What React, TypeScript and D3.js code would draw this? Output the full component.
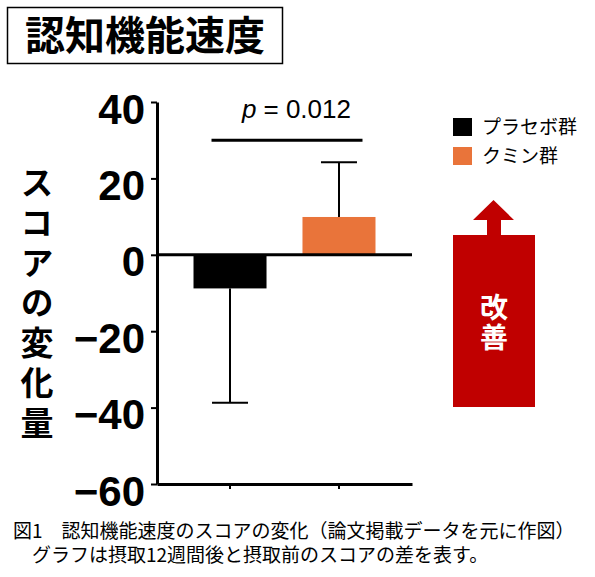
import { useEffect, useRef } from "react";
import * as d3 from "d3";

const groups = ["プラセボ群", "クミン群"];
const means = [-8.8, 9.9];
const errors = [29.9, 14.3];
const colors = ["#000000", "#E9743A"];
const yTicks = [-60, -40, -20, 0, 20, 40];
const yLabel = "スコアの変化量";
const arrowLabel = "改善";
const title = "認知機能速度";
const pText = "= 0.012";
const captionLines = [
  "図1　認知機能速度のスコアの変化（論文掲載データを元に作図）",
  "グラフは摂取12週間後と摂取前のスコアの差を表す。",
];

const App = () => {
  const chartRef = useRef<SVGSVGElement>(null);

  useEffect(() => {
    const width = 595;
    const height = 577;
    const left = 157;
    const right = 412;
    const top = 102;
    const bottom = 484;
    const jp = "'Noto Sans CJK JP', sans-serif";
    const narrow = "'Liberation Sans Narrow', 'Liberation Sans', Arial, sans-serif";

    const svg = d3
      .select(chartRef.current)
      .attr("width", width)
      .attr("height", height);

    const xScale = d3
      .scaleBand()
      .domain(groups)
      .range([left, right])
      .paddingInner(0.33)
      .paddingOuter(0.335);

    const yScale = d3.scaleLinear().domain([-60, 40]).range([bottom, top]);

    // title box
    svg
      .append("rect")
      .attr("x", 7.5)
      .attr("y", 7.5)
      .attr("width", 275)
      .attr("height", 56)
      .attr("fill", "none")
      .attr("stroke", "#000")
      .attr("stroke-width", 1.5);
    svg
      .append("text")
      .attr("x", 145)
      .attr("y", 50)
      .attr("text-anchor", "middle")
      .attr("font-family", jp)
      .attr("font-weight", 700)
      .attr("font-size", 40)
      .text(title);

    // bars
    svg
      .selectAll(".bar")
      .data(groups)
      .join("rect")
      .attr("class", "bar")
      .attr("x", (d) => xScale(d)!)
      .attr("width", xScale.bandwidth())
      .attr("y", (_, i) => yScale(Math.max(0, means[i])))
      .attr("height", (_, i) => Math.abs(yScale(means[i]) - yScale(0)))
      .attr("fill", (_, i) => colors[i]);

    // error bars (one side only)
    groups.forEach((g, i) => {
      const cx = xScale(g)! + xScale.bandwidth() / 2;
      const end = means[i] + Math.sign(means[i]) * errors[i];
      svg
        .append("line")
        .attr("x1", cx)
        .attr("x2", cx)
        .attr("y1", yScale(means[i]))
        .attr("y2", yScale(end))
        .attr("stroke", "#000")
        .attr("stroke-width", 2);
      svg
        .append("line")
        .attr("x1", cx - 18)
        .attr("x2", cx + 18)
        .attr("y1", yScale(end))
        .attr("y2", yScale(end))
        .attr("stroke", "#000")
        .attr("stroke-width", 2);
    });

    // zero line
    svg
      .append("line")
      .attr("x1", left)
      .attr("x2", right)
      .attr("y1", yScale(0))
      .attr("y2", yScale(0))
      .attr("stroke", "#000")
      .attr("stroke-width", 3);

    // y axis
    svg
      .append("g")
      .attr("transform", `translate(${left},0)`)
      .call(
        d3
          .axisLeft(yScale)
          .tickValues(yTicks)
          .tickSize(6)
          .tickSizeOuter(0)
          .tickPadding(6),
      )
      .call((g) => {
        g.select(".domain").attr("stroke-width", 3);
        g.selectAll(".tick line").attr("stroke-width", 2);
        g.selectAll(".tick text")
          .attr("font-family", narrow)
          .attr("font-weight", 700)
          .attr("font-size", 42)
          .attr("dy", "0.5em")
          .attr("fill", "#000");
      });

    // x axis (bottom)
    svg
      .append("g")
      .attr("transform", `translate(0,${bottom})`)
      .call(
        d3
          .axisBottom(xScale)
          .tickSize(5)
          .tickSizeOuter(0)
          .tickFormat(() => ""),
      )
      .call((g) => {
        g.select(".domain").attr("stroke-width", 3);
        g.selectAll(".tick line").attr("stroke-width", 2);
      });

    // significance bar
    const sigY = yScale(30);
    svg
      .append("line")
      .attr("x1", xScale(groups[0])! + 18)
      .attr("x2", xScale(groups[1])! + xScale.bandwidth() - 13)
      .attr("y1", sigY)
      .attr("y2", sigY)
      .attr("stroke", "#000")
      .attr("stroke-width", 3);
    const pLabel = svg
      .append("text")
      .attr("x", 242)
      .attr("y", 118)
      .attr("font-family", "'Liberation Sans', Arial, sans-serif")
      .attr("font-size", 26);
    pLabel.append("tspan").attr("font-style", "italic").text("p");
    pLabel.append("tspan").attr("dx", 7).text(pText);

    // y label, vertical writing
    svg
      .append("text")
      .attr("x", 37)
      .attr("y", 166)
      .attr("writing-mode", "vertical-rl")
      .attr("letter-spacing", 7)
      .attr("font-family", jp)
      .attr("font-weight", 700)
      .attr("font-size", 33)
      .text(yLabel);

    // legend
    groups.forEach((g, i) => {
      const ly = 118 + i * 29;
      svg
        .append("rect")
        .attr("x", 453)
        .attr("y", ly)
        .attr("width", 19)
        .attr("height", 18)
        .attr("fill", colors[i]);
      svg
        .append("text")
        .attr("x", 482)
        .attr("y", ly + 16)
        .attr("font-family", jp)
        .attr("font-size", 19)
        .text(g);
    });

    // improvement arrow
    svg
      .append("path")
      .attr(
        "d",
        "M453,235 L487,235 L487,220 L473,220 L493.5,200 L514,220 L501,220 L501,235 L535,235 L535,407 L453,407 Z",
      )
      .attr("fill", "#C00000");
    svg
      .append("text")
      .attr("x", 494)
      .attr("y", 293)
      .attr("writing-mode", "vertical-rl")
      .attr("letter-spacing", 2)
      .attr("font-family", jp)
      .attr("font-weight", 700)
      .attr("font-size", 28)
      .attr("fill", "#fff")
      .text(arrowLabel);

    // caption
    captionLines.forEach((line, i) => {
      svg
        .append("text")
        .attr("x", i === 0 ? 13 : 32)
        .attr("y", 538 + i * 24)
        .attr("font-family", jp)
        .attr("font-size", 19)
        .text(line);
    });

    return () => {
      d3.select(chartRef.current).selectAll("*").remove();
    };
  }, []);

  return (
    <svg
      ref={chartRef}
      style={{ position: "absolute", left: 0, top: 0, background: "#fff" }}
    ></svg>
  );
};

export default App;
